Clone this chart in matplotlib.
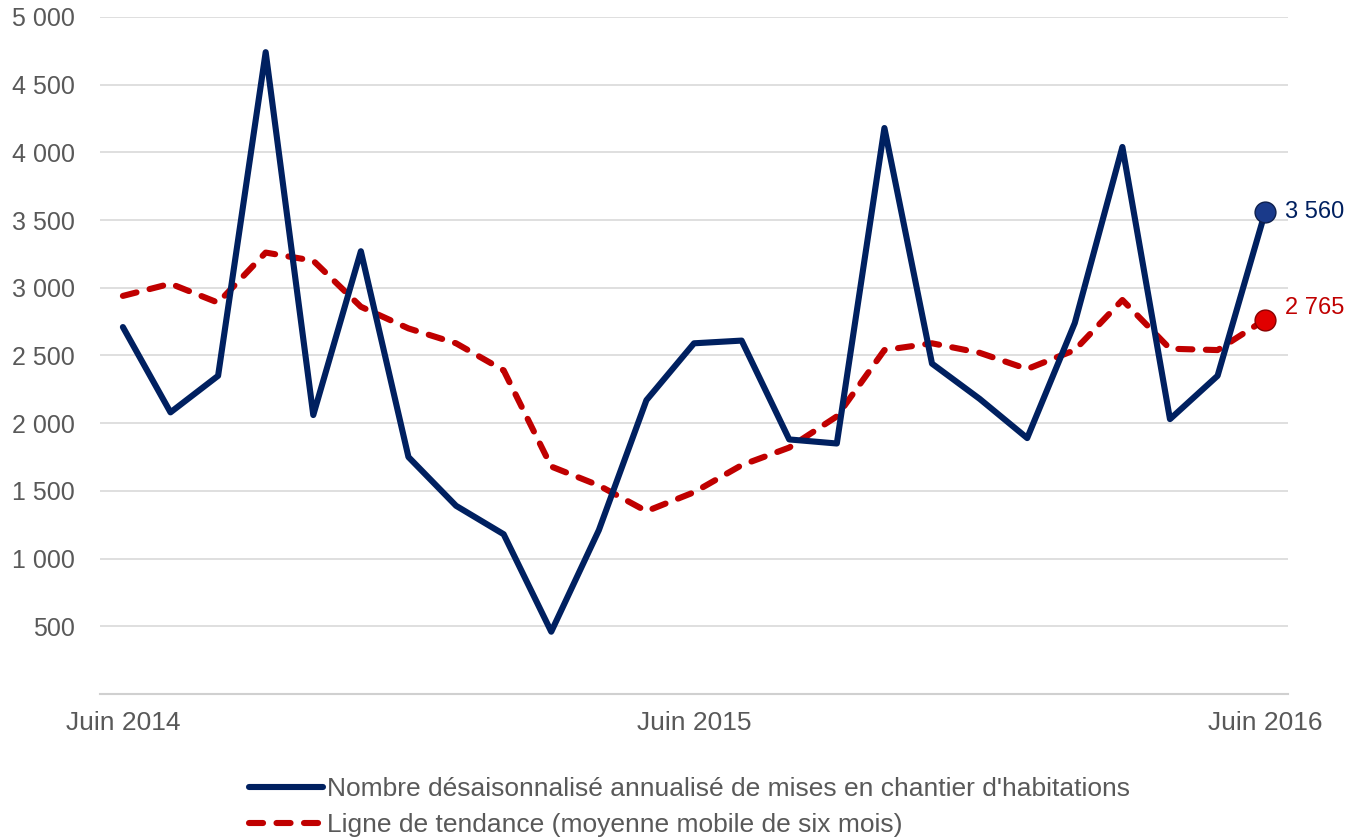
import numpy as np
import matplotlib.pyplot as plt

# monthly data, Juin 2014 -> Juin 2016
mois = np.arange(25)
mises_en_chantier = [2710, 2080, 2350, 4740, 2060, 3270, 1750, 1390, 1180, 460,
                     1210, 2170, 2590, 2610, 1880, 1850, 4180, 2440, 2180, 1890,
                     2740, 4040, 2030, 2350, 3560]
tendance = [2940, 3030, 2890, 3260, 3200, 2860, 2700, 2590, 2390, 1680,
            1540, 1350, 1490, 1690, 1820, 2050, 2540, 2590, 2520, 2400,
            2540, 2910, 2550, 2540, 2765]
xtick_pos = [0, 12, 24]
xtick_lab = ['Juin 2014', 'Juin 2015', 'Juin 2016']
yticks = np.arange(500, 5001, 500)

navy = '#002060'
red = '#c00000'
grey = '#595959'

plt.rcParams['font.family'] = ['Liberation Sans', 'DejaVu Sans']

fig = plt.figure(figsize=(13.65, 8.4), dpi=100)
ax = fig.add_axes([0.0733, 0.1738, 0.8703, 0.806])

ax.plot(mois, mises_en_chantier, color=navy, lw=4.4, solid_joinstyle='round',
        solid_capstyle='round',
        label="Nombre désaisonnalisé annualisé de mises en chantier d'habitations", zorder=3)
ax.plot(mois, tendance, color=red, lw=4.4, ls=(0, (2.3, 2.2)), dash_capstyle='round',
        dash_joinstyle='round',
        label='Ligne de tendance (moyenne mobile de six mois)', zorder=2)

# end markers + labels
ax.plot(mois[-1], mises_en_chantier[-1], 'o', ms=15, color='#1a3a8a', mec='#0d1f4d', zorder=4)
ax.plot(mois[-1], tendance[-1], 'o', ms=15, color='#e00000', mec='#8a0000', zorder=4)
ax.annotate('3 560', (mois[-1], mises_en_chantier[-1]), xytext=(14, 0), textcoords='offset points',
            va='center', ha='left', color=navy, fontsize=17)
ax.annotate('2 765', (mois[-1], tendance[-1]), xytext=(14, 8), textcoords='offset points',
            va='center', ha='left', color=red, fontsize=17)

ax.set_xlim(-0.48, 24.48)
ax.set_ylim(0, 5000)
ax.set_yticks(yticks)
ax.set_yticklabels([f'{v:,}'.replace(',', ' ') for v in yticks])
ax.set_xticks(xtick_pos)
ax.set_xticklabels(xtick_lab)
ax.tick_params(length=0, labelcolor=grey)
ax.tick_params(axis='y', pad=18, labelsize=18)
ax.tick_params(axis='x', pad=12, labelsize=19)
ax.grid(axis='y', color='#d9d9d9', lw=1.2)
ax.set_axisbelow(True)
for s in ['top', 'right', 'left']:
    ax.spines[s].set_visible(False)
ax.spines['bottom'].set_color('#d0d0d0')
ax.spines['bottom'].set_linewidth(1.5)

leg = fig.legend(loc='upper left', bbox_to_anchor=(0.165, 0.103), frameon=False,
                 fontsize=19, handlelength=2.8, handletextpad=0.15, labelspacing=0.45)
for t in leg.get_texts():
    t.set_color(grey)

fig.savefig('out.png', dpi=100)
